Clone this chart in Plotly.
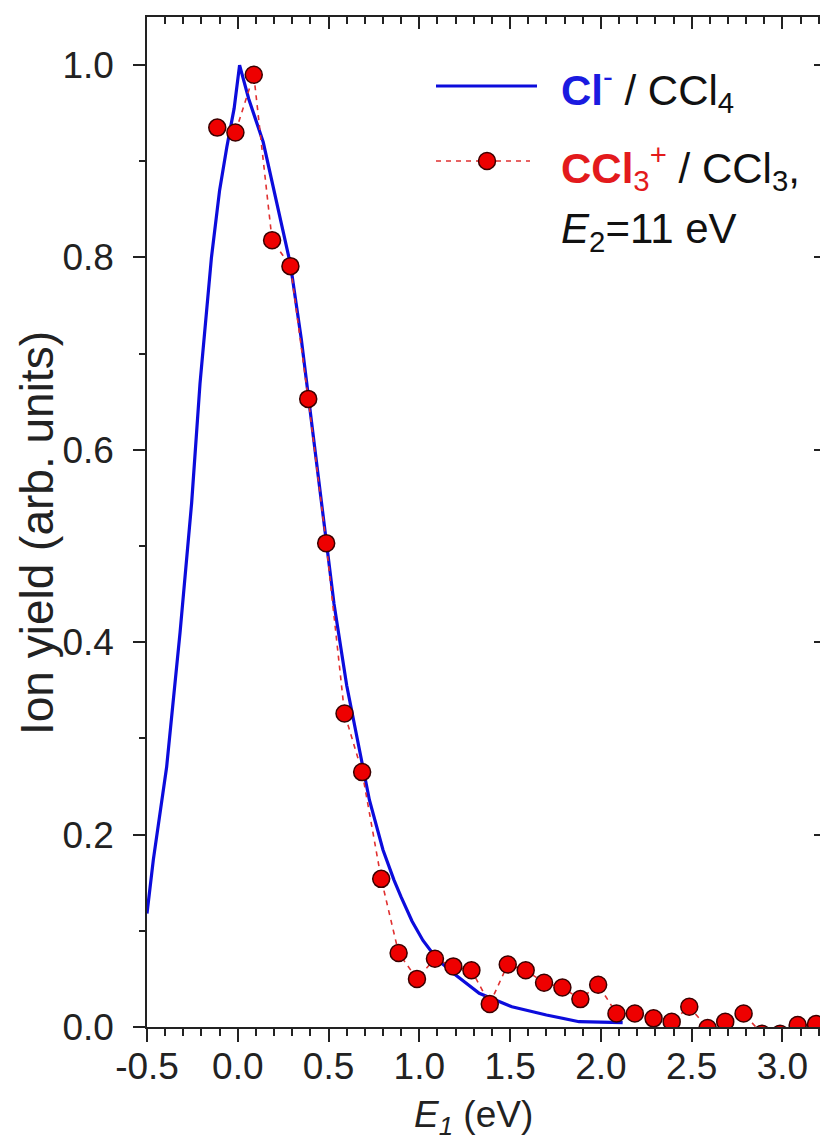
import plotly.graph_objects as go

# Blue curve: Cl- / CCl4
cl_x = [-0.5, -0.465, -0.392, -0.318, -0.254, -0.208, -0.145, -0.10, -0.06, -0.02, 0.01,
        0.06, 0.14, 0.23, 0.29, 0.35, 0.39, 0.45, 0.49, 0.53, 0.60, 0.665, 0.725, 0.80,
        0.86, 0.90, 0.96, 1.02, 1.10, 1.20, 1.33, 1.51, 1.70, 1.88, 2.12]
cl_y = [0.118, 0.174, 0.27, 0.41, 0.545, 0.669, 0.80, 0.87, 0.915, 0.955, 1.0,
        0.965, 0.92, 0.845, 0.793, 0.715, 0.653, 0.56, 0.503, 0.44, 0.355, 0.292, 0.236, 0.184,
        0.153, 0.135, 0.11, 0.090, 0.070, 0.054, 0.035, 0.021, 0.0125, 0.0055, 0.0045]

# Red points: CCl3+ / CCl3, E2 = 11 eV
ccl3_x = [-0.113, -0.013, 0.088, 0.189, 0.29, 0.388, 0.487, 0.588, 0.685, 0.79,
          0.886, 0.987, 1.086, 1.187, 1.287, 1.388, 1.487, 1.586, 1.687, 1.788,
          1.887, 1.985, 2.086, 2.187, 2.29, 2.39, 2.487, 2.588, 2.685, 2.786,
          2.887, 2.987, 3.084, 3.185]
ccl3_y = [0.935, 0.930, 0.990, 0.818, 0.791, 0.653, 0.503, 0.326, 0.265, 0.154,
          0.077, 0.050, 0.071, 0.063, 0.059, 0.024, 0.065, 0.059, 0.046, 0.041,
          0.029, 0.044, 0.014, 0.014, 0.009, 0.0055, 0.021, -0.001, 0.0055, 0.014,
          -0.007, -0.007, 0.002, 0.003]

x_ticks = [-0.5, 0.0, 0.5, 1.0, 1.5, 2.0, 2.5, 3.0]
x_ticklabels = ["-0.5", "0.0", "0.5", "1.0", "1.5", "2.0", "2.5", "3.0"]
y_ticks = [0.0, 0.2, 0.4, 0.6, 0.8, 1.0]
y_ticklabels = ["0.0", "0.2", "0.4", "0.6", "0.8", "1.0"]

X_RANGE = [-0.5, 3.24]
Y_RANGE = [0.0, 1.05]

FONT = "Arial, 'Liberation Sans', sans-serif"
BLUE = "#0c0cdc"
RED = "#ee0000"
AXC = "#222222"

fig = go.Figure()
fig.add_trace(go.Scatter(x=cl_x, y=cl_y, mode="lines",
                         line=dict(color=BLUE, width=3.2), showlegend=False))
fig.add_trace(go.Scatter(x=ccl3_x, y=ccl3_y, mode="lines+markers",
                         line=dict(color="#e03030", width=1.6, dash="5px,5px"),
                         marker=dict(size=17, color=RED, line=dict(color="#3a0000", width=1.5)),
                         showlegend=False))
# empty trace so the mirrored frame axes (top / right, inward ticks) are drawn
fig.add_trace(go.Scatter(x=[], y=[], xaxis="x2", yaxis="y2", showlegend=False, hoverinfo="skip"))

# the page body has an 8px margin: the figure is sized to fit the 828x1145 window
OFF = 8
W, H = 828 - OFF, 1145 - OFF
ML, MT = 147 - OFF, 17 - OFF
MR = W - (826 - OFF)
MB = H - (1027 - OFF)
PW = W - ML - MR
PH = H - MT - MB


def px(xp):
    # page pixel -> paper fraction
    return (xp - OFF - ML) / PW


def py(yp):
    return (H - MB - (yp - OFF)) / PH


common_axis = dict(showgrid=False, zeroline=False, showline=True, linecolor=AXC, linewidth=1.5,
                   automargin=False)

fig.update_layout(
    width=W, height=H,
    margin=dict(l=ML, r=MR, t=MT, b=MB, autoexpand=False),
    paper_bgcolor="white", plot_bgcolor="white",
    font=dict(family=FONT, color=AXC, size=37),
    xaxis=dict(range=X_RANGE, tickmode="array", tickvals=x_ticks, ticktext=x_ticklabels,
               ticks="outside", ticklen=13, tickwidth=1.5, tickcolor=AXC,
               ticklabelstandoff=-7,
               minor=dict(dtick=0.1, ticks="outside", ticklen=7, tickwidth=1.5, tickcolor=AXC),
               tickfont=dict(size=37, family=FONT, color=AXC),
               **common_axis),
    yaxis=dict(range=Y_RANGE, tickmode="array", tickvals=y_ticks, ticktext=y_ticklabels,
               ticks="outside", ticklen=12, tickwidth=1.5, tickcolor=AXC,
               ticklabelstandoff=12,
               minor=dict(dtick=0.1, ticks="outside", ticklen=6, tickwidth=1.5, tickcolor=AXC),
               tickfont=dict(size=37, family=FONT, color=AXC),
               **common_axis),
    xaxis2=dict(range=X_RANGE, overlaying="x", side="top", anchor="y2",
                tickmode="array", tickvals=x_ticks, showticklabels=False,
                ticks="inside", ticklen=12, tickwidth=1.5, tickcolor=AXC,
                minor=dict(dtick=0.1, ticks="inside", ticklen=7, tickwidth=1.5, tickcolor=AXC),
                **common_axis),
    yaxis2=dict(range=Y_RANGE, overlaying="y", side="right", anchor="x2",
                tickmode="array", tickvals=y_ticks, showticklabels=False,
                ticks="inside", ticklen=12, tickwidth=1.5, tickcolor=AXC,
                minor=dict(dtick=0.1, ticks="inside", ticklen=6, tickwidth=1.5, tickcolor=AXC),
                **common_axis),
)

# axis titles
fig.add_annotation(xref="paper", yref="paper", x=px(473), y=py(1117),
                   text="<i>E</i><sub><i>1</i></sub> (eV)", showarrow=False,
                   xanchor="center", yanchor="middle",
                   font=dict(size=37, family=FONT, color=AXC))
fig.add_annotation(xref="paper", yref="paper", x=px(37), y=py(533),
                   text="Ion yield (arb. units)", showarrow=False, textangle=-90,
                   xanchor="center", yanchor="middle", borderpad=0,
                   font=dict(size=46, family=FONT, color=AXC))

# legend (drawn by hand to match the original layout)
fig.add_shape(type="line", xref="paper", yref="paper",
              x0=px(436), x1=px(537), y0=py(86), y1=py(86),
              line=dict(color=BLUE, width=3.2))
fig.add_shape(type="line", xref="paper", yref="paper",
              x0=px(436), x1=px(530), y0=py(161), y1=py(161),
              line=dict(color="#e03030", width=1.6, dash="5px,5px"))
fig.add_shape(type="circle", xref="paper", yref="paper",
              xsizemode="pixel", ysizemode="pixel",
              xanchor=px(487), yanchor=py(161), x0=-8.5, x1=8.5, y0=-8.5, y1=8.5,
              fillcolor=RED, line=dict(color="#3a0000", width=1.5))

LEG_FONT = dict(size=42, family=FONT, color="#111111")
fig.add_annotation(xref="paper", yref="paper", x=px(559), y=py(90),
                   text="<span style='color:#1a1ae0'><b>Cl</b><sup>-</sup></span> / CCl<sub>4</sub>",
                   showarrow=False, xanchor="left", yanchor="middle", font=LEG_FONT)
fig.add_annotation(xref="paper", yref="paper", x=px(559), y=py(167),
                   text="<span style='color:#e31a1c'><b>CCl</b><sub>3</sub><sup>+</sup></span> / CCl<sub>3</sub>,",
                   showarrow=False, xanchor="left", yanchor="middle", font=LEG_FONT)
fig.add_annotation(xref="paper", yref="paper", x=px(559), y=py(232),
                   text="<i>E</i><sub>2</sub>=11 eV",
                   showarrow=False, xanchor="left", yanchor="middle", font=LEG_FONT)

fig.write_html("out.html")
